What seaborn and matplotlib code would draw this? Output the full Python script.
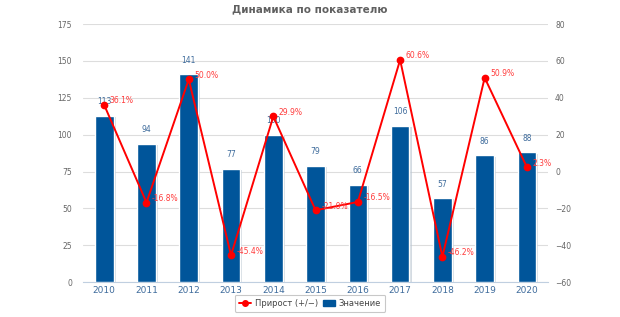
import matplotlib
matplotlib.use("Agg")
import matplotlib.pyplot as plt
import matplotlib.patheffects as pe
from matplotlib.lines import Line2D
from matplotlib.patches import Patch
import seaborn as sns
import numpy as np

years = ["2010", "2011", "2012", "2013", "2014", "2015", "2016", "2017", "2018", "2019", "2020"]
values = [113, 94, 141, 77, 100, 79, 66, 106, 57, 86, 88]
growth = [36.1, -16.8, 50.0, -45.4, 29.9, -21.0, -16.5, 60.6, -46.2, 50.9, 2.3]

bar_color = "#00559a"
line_color = "#ff0000"
label_blue = "#3f6c9c"
label_red = "#ff3b3b"
tick_gray = "#666666"

sns.set_theme(style="white")
plt.rcParams['font.family'] = ['DejaVu Sans']

fig = plt.figure(figsize=(6.2, 3.17), dpi=100)
ax = fig.add_axes([0.134, 0.110, 0.750, 0.814])

sns.barplot(x=years, y=values, ax=ax, color=bar_color, width=0.44,
            saturation=1, zorder=3)
for p in ax.patches:
    p.set_path_effects([pe.SimplePatchShadow(offset=(1.5, -1), shadow_rgbFace="#b8c4d0", alpha=0.6),
                        pe.Normal()])

ax.set_ylim(0, 175)
ax.set_yticks(np.arange(0, 176, 25))
ax.set_xlim(-0.5, len(years) - 0.5)
ax.grid(axis="y", color="#dddddd", linewidth=0.8, zorder=0)
ax.set_axisbelow(True)
for s in ["top", "left", "right"]:
    ax.spines[s].set_visible(False)
ax.spines["bottom"].set_color("#c0cfe0")
ax.spines["bottom"].set_linewidth(0.8)
ax.tick_params(axis="y", labelsize=5.5, labelcolor=tick_gray, length=0, pad=8)
ax.tick_params(axis="x", labelsize=6.5, labelcolor=label_blue, length=0, pad=3)
ax.set_xticks(np.arange(-0.5, len(years), 1.0), minor=True)
ax.tick_params(axis="x", which="minor", length=4, color="#c0cfe0", width=0.8)
ax.set_xlabel("")
ax.set_ylabel("")

for i, v in enumerate(values):
    ax.annotate(str(v), (i, v), xytext=(0, 10), textcoords="offset points",
                ha="center", va="center", fontsize=5.5, color=label_blue, zorder=6)

ax2 = ax.twinx()
sns.pointplot(x=years, y=growth, ax=ax2, color=line_color, markers="o",
              markersize=4.5, linewidth=1.4, zorder=5)
ax2.set_ylim(-60, 80)
ax2.set_yticks(np.arange(-60, 81, 20))
ax2.set_xlim(-0.5, len(years) - 0.5)
ax2.grid(False)
for s in ["top", "left", "right", "bottom"]:
    ax2.spines[s].set_visible(False)
ax2.tick_params(axis="y", labelsize=5.5, labelcolor=tick_gray, length=0, pad=5)
ax2.set_ylabel("")
ax2.set_xlabel("")

for i, g in enumerate(growth):
    ax2.annotate(f"{g:.1f}%", (i, g), xytext=(4, 3), textcoords="offset points",
                 ha="left", va="center", fontsize=5.5, color=label_red, zorder=7)

fig.text(0.5, 0.972, "Динамика по показателю", ha="center", va="center",
         fontsize=7.5, fontweight="bold", color="#606060")

handles = [Line2D([0], [0], color=line_color, marker="o", markersize=4, linewidth=1.4),
           Patch(facecolor=bar_color, edgecolor=bar_color)]
leg = fig.legend(handles, ["Прирост (+/−)", "Значение"], loc="center",
                 bbox_to_anchor=(0.5, 0.043), ncol=2, fontsize=6, frameon=True,
                 handlelength=1.5, handletextpad=0.4, columnspacing=0.6,
                 borderpad=0.5, fancybox=True)
leg.get_frame().set_edgecolor("#bbbbbb")
leg.get_frame().set_linewidth(0.8)
for t in leg.get_texts():
    t.set_color("#444444")

fig.savefig("out.png", dpi=100)
